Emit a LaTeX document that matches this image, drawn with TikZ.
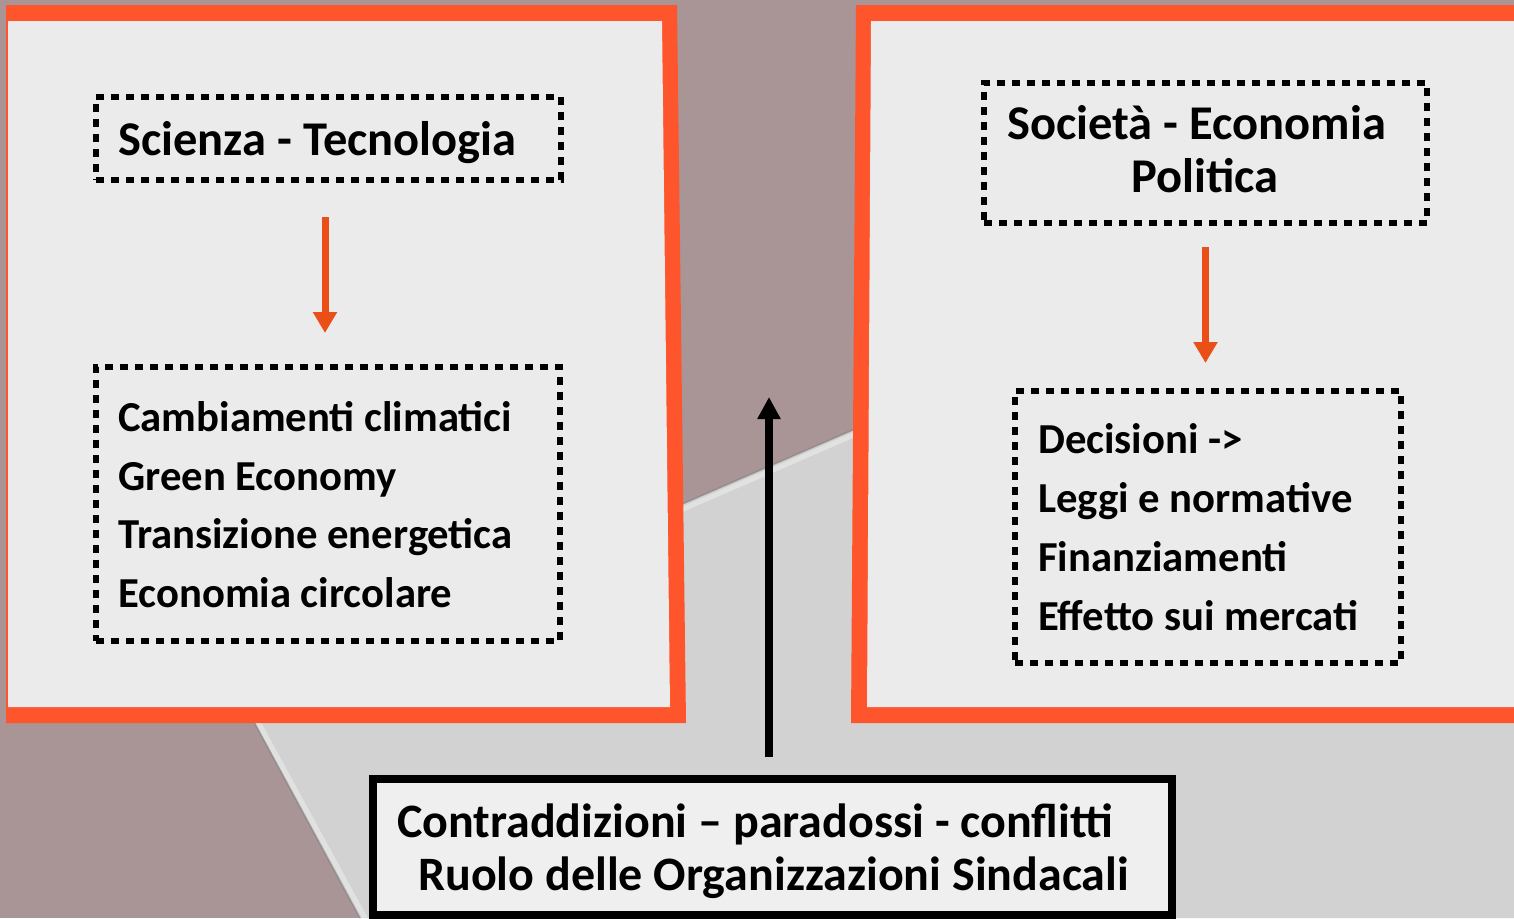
\documentclass[tikz,border=0pt]{standalone}
\usepackage{fontspec}
\setmainfont{Carlito}
\usetikzlibrary{arrows.meta,calc}
\definecolor{bgmauve}{HTML}{A99595}
\definecolor{sheetgray}{HTML}{D2D2D2}
\definecolor{paper}{HTML}{EBEBEB}
\definecolor{frameorange}{HTML}{FF552D}
\definecolor{arroworange}{HTML}{E94F16}
\definecolor{boxfill}{HTML}{EFEFEF}
\tikzset{
  dotbox/.style={draw=black, line width=6pt, dash pattern=on 8pt off 7pt, rectangle, inner sep=0pt, outer sep=0pt},
  headtext/.style={inner sep=0pt, anchor=base west, font=\fontsize{48.5}{58}\selectfont\bfseries},
  listtext/.style={inner sep=0pt, anchor=base west, font=\fontsize{42.7}{51}\selectfont\bfseries},
  bottext/.style={inner sep=0pt, anchor=base west, font=\fontsize{48}{57}\selectfont\bfseries},
  orarrow/.style={draw=arroworange, line width=7pt, -{Triangle[width=23pt,length=21pt]}},
  blarrow/.style={draw=black, line width=8pt, -{Triangle[width=22pt,length=22pt]}}
}
\begin{document}
\begin{tikzpicture}[x=1pt,y=-1pt]
\useasboundingbox (0,0) rectangle (1514,918);
% background
\fill[bgmauve] (0,0) rectangle (1514,918);
\fill[sheetgray] (240,696) -- (1514,143) -- (1514,918) -- (360,918) -- cycle;
\draw[white, opacity=0.35, line width=5pt] (246,699) -- (1514,148);
\draw[white, opacity=0.35, line width=5pt] (246,700) -- (365,918);
\draw[black!55, opacity=0.5, line width=1.5pt] (240,696) -- (1514,143);
\draw[black!55, opacity=0.5, line width=1.5pt] (240,696) -- (360,918);
% left panel
\fill[frameorange] (6,5) -- (677,5) -- (686,723) -- (6,723) -- cycle;
\fill[paper] (8,21) -- (662,21) -- (670,707) -- (8,707) -- cycle;
% right panel
\fill[frameorange] (856,5) -- (1514,5) -- (1514,723) -- (851,723) -- cycle;
\fill[paper] (871,21) -- (1514,21) -- (1514,707) -- (867,707) -- cycle;
% dotted boxes
\node[dotbox, minimum width=465pt, minimum height=83pt] (st) at (328.5,138.5) {};
\node[dotbox, minimum width=464pt, minimum height=274pt] (cc) at (328,504) {};
\node[dotbox, minimum width=443pt, minimum height=140pt] (se) at (1205.5,153) {};
\node[dotbox, minimum width=386pt, minimum height=272pt] (de) at (1208,527) {};
% texts
\node[headtext] (t1) at (118,155) {Scienza - Tecnologia};
\node[listtext] (l1) at (118,431) {Cambiamenti climatici};
\node[listtext] (l2) at (118,490) {Green Economy};
\node[listtext] (l3) at (118,548) {Transizione energetica};
\node[listtext] (l4) at (118,607) {Economia circolare};
\node[headtext] (t2) at (1007,139) {Società - Economia};
\node[headtext, anchor=base] (t3) at (1205,192) {Politica};
\node[listtext] (r1) at (1038,453) {Decisioni ->};
\node[listtext] (r2) at (1038,512) {Leggi e normative};
\node[listtext] (r3) at (1038,571) {Finanziamenti};
\node[listtext] (r4) at (1038,630) {Effetto sui mercati};
% orange arrows
\draw[orarrow, shorten <=37pt, shorten >=34pt] ($(st.south)+(-3.5,0)$) -- ($(cc.north)+(-3,0)$);
\draw[orarrow, shorten <=24pt, shorten >=28pt] (se.south) -- ($(de.north)+(-2.5,0)$);
% bottom box
\node[draw=black, line width=8pt, fill=boxfill, rectangle, inner sep=0pt, outer sep=0pt, minimum width=799pt, minimum height=136pt] (bot) at (772.5,847) {};
\node[bottext] (b1) at (397,837) {Contraddizioni – paradossi - conflitti};
\node[bottext] (b2) at (418,890) {Ruolo delle Organizzazioni Sindacali};
% black arrow
\coordinate (btip) at (769,397);
\draw[blarrow] ($(bot.north)+(-3.5,-22)$) -- (btip);
\end{tikzpicture}
\end{document}
